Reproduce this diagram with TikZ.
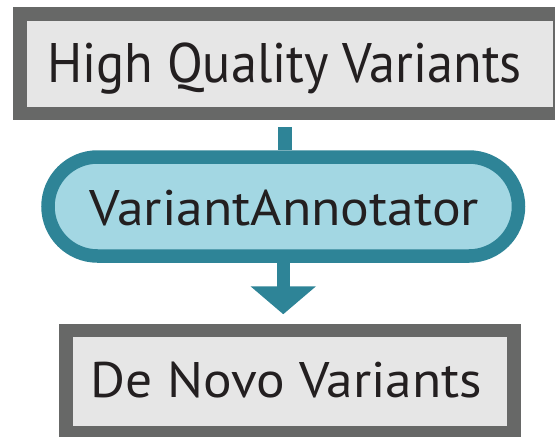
\documentclass[tikz,border=0pt]{standalone}
\usepackage{fontspec}
\setmainfont{PT Sans}
\usetikzlibrary{arrows.meta}

\definecolor{boxedge}{HTML}{676867}
\definecolor{boxfill}{HTML}{E6E6E6}
\definecolor{teal}{HTML}{2E8497}
\definecolor{pillfill}{HTML}{A3D7E3}
\definecolor{ink}{HTML}{231F20}

\tikzset{
  databox/.style={draw=boxedge, fill=boxfill, line width=13.5pt,
    rectangle, inner sep=0pt, text=ink, text depth=0pt},
  toolpill/.style={draw=teal, fill=pillfill, line width=13.5pt,
    rectangle, rounded corners=49.5pt, inner sep=0pt, text=ink, text depth=0pt},
  flow/.style={draw=teal, line width=14pt},
}

\begin{document}
\begin{tikzpicture}[x=1pt, y=-1pt]
  \useasboundingbox (0,0) rectangle (555,437);
  \clip (0,0) rectangle (555,437);

  % input data set
  \node[databox, minimum width=540pt, minimum height=99.5pt, text height=36.5pt,
        font=\fontsize{55.7}{60}\selectfont] (hq) at (290,63.75)
        {\hspace*{-11pt}\scalebox{0.94}[1]{High Quality Variants}};

  % processing step
  \node[toolpill, minimum width=470.5pt, minimum height=99pt, text height=37pt,
        font=\fontsize{50}{54}\selectfont] (va) at (283.25,206.5)
        {\hspace*{2pt}\scalebox{1.074}[1]{VariantAnnotator}};

  % output data set
  \node[databox, minimum width=448pt, minimum height=102pt, text height=31pt,
        font=\fontsize{50}{54}\selectfont] (dn) at (290,381.5)
        {\hspace*{-7pt}\scalebox{1.069}[1]{De Novo Variants}};

  % connectors
  \draw[flow, shorten <=6.75pt] ([xshift=1.5pt]va.north |- hq.south) -- ([xshift=1.5pt]va.north);
  \draw[flow, line width=12.5pt, -{Triangle[width=64pt, length=28pt]},
        shorten >=9.5pt] (va.south) -- (va.south |- dn.north);
\end{tikzpicture}
\end{document}
